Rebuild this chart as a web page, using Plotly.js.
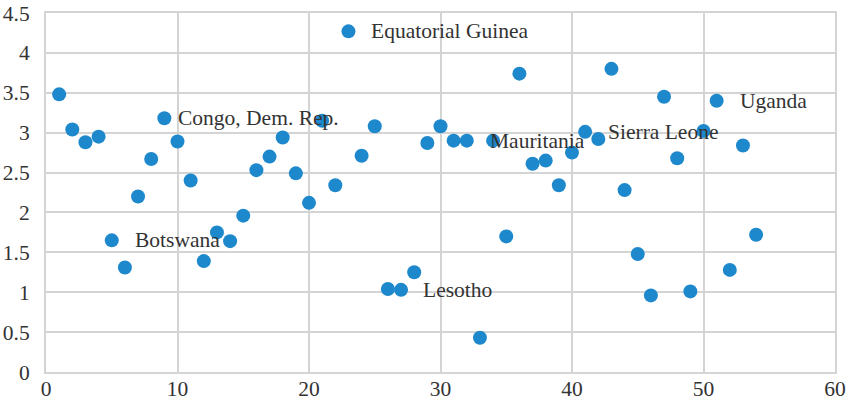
<!DOCTYPE html>
<html>
<head>
<meta charset="utf-8">
<script src="https://cdn.plot.ly/plotly-3.0.1.min.js"></script>
<style>html,body{margin:0;padding:0;background:#fff;}#chart{width:850px;height:404px;}</style>
</head>
<body>
<div id="chart"></div>
<script>
// Data
const xValues = [1,2,3,4,5,6,7,8,9,10,11,12,13,14,15,16,17,18,19,20,21,22,23,24,25,26,27,28,29,30,31,32,33,34,35,36,37,38,39,40,41,42,43,44,45,46,47,48,49,50,51,52,53,54];
const yValues = [3.48,3.04,2.88,2.95,1.65,1.31,2.20,2.67,3.18,2.89,2.40,1.39,1.75,1.64,1.96,2.53,2.70,2.94,2.49,2.12,3.15,2.34,4.27,2.71,3.08,1.04,1.03,1.25,2.87,3.08,2.90,2.90,0.43,2.90,1.70,3.74,2.61,2.65,2.34,2.75,3.01,2.92,3.80,2.28,1.48,0.96,3.45,2.68,1.01,3.02,3.40,1.28,2.84,1.72];
const labelNames = ["Congo, Dem. Rep.","Botswana","Equatorial Guinea","Lesotho","Mauritania","Sierra Leone","Uganda"];
const labelPoints = [9,5,23,27,32,41,51];
const xTicks = [0,10,20,30,40,50,60];
const yTicks = [0,0.5,1,1.5,2,2.5,3,3.5,4,4.5];

// Styles (label offsets in pixels)
const labelShift = {"Congo, Dem. Rep.":12,"Botswana":21,"Equatorial Guinea":21,"Lesotho":20,"Mauritania":21,"Sierra Leone":21,"Uganda":21};
const font = "Liberation Serif";
const grid = "#d4d4d4";
function txt() { return {family: font, size: 21.5, color: '#333333'}; }

const annotations = labelNames.map((name, i) => {
  const idx = xValues.indexOf(labelPoints[i]);
  return {
    x: xValues[idx], y: yValues[idx], xref: 'x', yref: 'y',
    text: name, showarrow: false, xanchor: 'left', yanchor: 'middle',
    xshift: labelShift[name], font: txt()
  };
});

const trace = {
  x: xValues, y: yValues, type: 'scatter', mode: 'markers',
  marker: {size: 14, color: '#1e88cc'}, hoverinfo: 'x+y'
};

const layout = {
  width: 850, height: 404,
  margin: {l: 46, r: 15, t: 13, b: 32, pad: 0},
  paper_bgcolor: '#ffffff', plot_bgcolor: '#ffffff',
  showlegend: false,
  font: txt(),
  xaxis: {
    range: [0, 60], tickmode: 'array', tickvals: xTicks, ticktext: xTicks.map(String),
    tickfont: txt(),
    showgrid: true, gridcolor: grid, gridwidth: 2,
    zeroline: false, showline: true, linecolor: grid, linewidth: 2, mirror: true,
    ticks: '', ticklabelstandoff: -4, fixedrange: true
  },
  yaxis: {
    range: [0, 4.5], tickmode: 'array', tickvals: yTicks, ticktext: yTicks.map(String),
    tickfont: txt(),
    showgrid: true, gridcolor: grid, gridwidth: 2,
    zeroline: false, showline: true, linecolor: grid, linewidth: 2, mirror: true,
    ticks: '', ticklabelstandoff: 10, fixedrange: true
  },
  annotations: annotations
};

Plotly.newPlot('chart', [trace], layout, {displayModeBar: false, staticPlot: true});
</script>
</body>
</html>
